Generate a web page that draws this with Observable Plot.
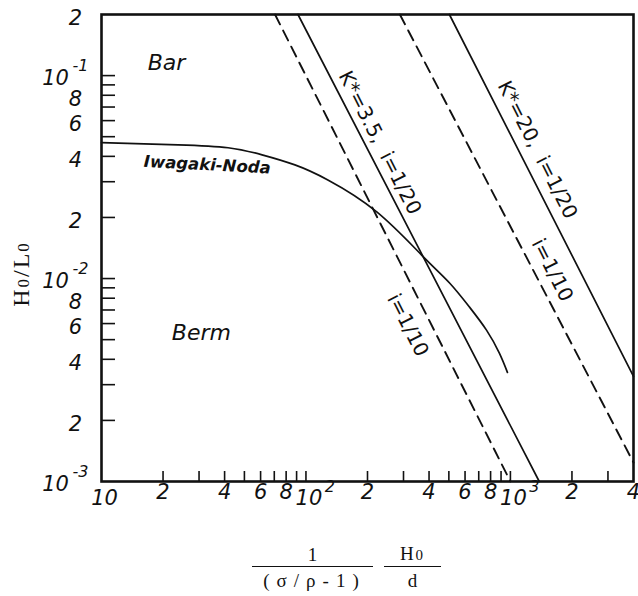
<!DOCTYPE html>
<html><head><meta charset="utf-8">
<script src="https://cdn.jsdelivr.net/npm/d3@7"></script>
<script src="https://cdn.jsdelivr.net/npm/@observablehq/plot@0.6"></script>
<style>
body{margin:0;background:#fff;}
#wrap{position:relative;width:638px;height:596px;overflow:hidden;background:#fff;}
g[aria-label="region-labels"] text{letter-spacing:2.5px;}
g[aria-label="curve-label"] text{letter-spacing:4px;}
g[aria-label="line-labels"] text{letter-spacing:1.5px;}
.ylab{position:absolute;left:22px;top:274px;transform:translate(-50%,-50%) rotate(-90deg);font-family:"Liberation Serif",serif;font-size:24px;line-height:24px;letter-spacing:2px;white-space:nowrap;color:#111;}
.ylab small{font-size:17px;}
.xlab{position:absolute;left:252px;top:544px;display:flex;align-items:center;font-family:"Liberation Serif",serif;font-size:19px;color:#111;}
.frac{display:flex;flex-direction:column;align-items:center;}
.frac .num{padding:0 0 1px 0;line-height:20px;}
.frac .den{border-top:1.5px solid #111;line-height:23px;padding-top:2px;}
.frac .num small{font-size:15px;}
</style></head><body><div id="wrap"></div>
<script>
// Axis domains
const xDomain = [10, 4000];
const yDomain = [0.001, 0.2];

// Minor/major tick positions
const xTicks = [20,30,40,50,60,70,80,90,100,200,300,400,500,600,700,800,900,1000,2000,3000];
const yTicks = [0.002,0.003,0.004,0.005,0.006,0.007,0.008,0.009,0.01,0.02,0.03,0.04,0.05,0.06,0.07,0.08,0.09,0.1];

// Tick labels
const xLabelValues = [20,40,60,80,200,400,600,800,2000,4000];
const xLabelTexts  = ["2","4","6","8","2","4","6","8","2","4"];
const xPowerValues = [10,100,1000];
const xPowerExps   = ["","2","3"];
const yLabelValues = [0.2,0.08,0.06,0.04,0.02,0.008,0.006,0.004,0.002];
const yLabelTexts  = ["2","8","6","4","2","8","6","4","2"];
const yPowerValues = [0.1,0.01,0.001];
const yPowerExps   = ["-1","-2","-3"];

// Criterion lines (endpoints)
const k35i20X = [91.4, 1384];  const k35i20Y = [0.2, 0.001];   // solid
const k35i10X = [70.6, 1000];  const k35i10Y = [0.2, 0.001];   // dashed
const k20i20X = [503, 4000];   const k20i20Y = [0.2, 0.0033];  // solid
const k20i10X = [288, 4000];   const k20i10Y = [0.2, 0.00124]; // dashed

// Iwagaki-Noda curve
const iwagakiX = [10, 23.7, 41.6, 61.0, 88.3, 128, 222, 372, 504, 631, 764, 883, 967];
const iwagakiY = [0.0467, 0.0456, 0.0441, 0.0407, 0.0363, 0.0306, 0.0213, 0.0129, 0.00951, 0.00723, 0.00557, 0.00429, 0.00345];

// Labels
const regionTexts = ["Bar", "Berm"];
const regionX = [20.8, 30.8];
const regionY = [0.116, 0.00538];
const curveText = ["Iwagaki-Noda"];
const curveX = [32.9];
const curveY = [0.0363];
const lineLabelTexts = ["K*=3.5,  i=1/20", "K*=20,  i=1/20", "i=1/10", "i=1/10"];
const lineLabelX = [229.6, 1355, 1603, 315];
const lineLabelY = [0.0467, 0.0431, 0.0110, 0.00589];

const pts = (xs, ys) => xs.map((x, i) => ({x, y: ys[i]}));
const idx = a => a.map((_, i) => i);

const W = 638, H = 596;
const mL = 101, mR = 5, mT = 14, mB = 115;
const frameW = W - mL - mR, frameH = H - mT - mB;
const font = "DejaVu Sans";

const plot = Plot.plot({
  width: W, height: H,
  marginLeft: mL, marginRight: mR, marginTop: mT, marginBottom: mB,
  x: {type: "log", domain: xDomain, axis: null},
  y: {type: "log", domain: yDomain, axis: null},
  style: {background: "#fff", color: "#111", fontFamily: font, overflow: "visible"},
  marks: [
    Plot.tickX(xTicks, {x: d => d, insetTop: frameH - 10, stroke: "#111", strokeWidth: 1.6}),
    Plot.tickY(yTicks, {y: d => d, insetRight: frameW - 14, stroke: "#111", strokeWidth: 1.6}),
    Plot.line(pts(k35i20X, k35i20Y), {x: "x", y: "y", stroke: "#111", strokeWidth: 1.7}),
    Plot.line(pts(k35i10X, k35i10Y), {x: "x", y: "y", stroke: "#111", strokeWidth: 1.9, strokeDasharray: "11,7"}),
    Plot.line(pts(k20i20X, k20i20Y), {x: "x", y: "y", stroke: "#111", strokeWidth: 1.7}),
    Plot.line(pts(k20i10X, k20i10Y), {x: "x", y: "y", stroke: "#111", strokeWidth: 1.9, strokeDasharray: "11,7"}),
    Plot.line(pts(iwagakiX, iwagakiY), {x: "x", y: "y", curve: "natural", stroke: "#111", strokeWidth: 1.7}),
    Plot.frame({stroke: "#111", strokeWidth: 2.6}),
    // x tick labels
    Plot.text(idx(xLabelValues), {x: i => xLabelValues[i], text: i => xLabelTexts[i], frameAnchor: "bottom", dy: 17,
      fontSize: 21, fontStyle: "italic", fill: "#111"}),
    Plot.text(idx(xPowerValues), {x: i => xPowerValues[i], text: () => "10", frameAnchor: "bottom", dy: 23, dx: 3,
      fontSize: 21, fontStyle: "italic", fill: "#111"}),
    Plot.text(idx(xPowerValues), {x: i => xPowerValues[i], text: i => xPowerExps[i], frameAnchor: "bottom", dy: 10, dx: 24,
      fontSize: 16, fontStyle: "italic", fill: "#111"}),
    // y tick labels
    Plot.text(idx(yLabelValues), {y: i => yLabelValues[i], text: i => yLabelTexts[i], frameAnchor: "left", dx: -26, dy: 4,
      textAnchor: "middle", fontSize: 21, fontStyle: "italic", fill: "#111"}),
    Plot.text(idx(yPowerValues), {y: i => yPowerValues[i], text: () => "10", frameAnchor: "left", dx: -46, dy: 3,
      textAnchor: "middle", fontSize: 21, fontStyle: "italic", fill: "#111"}),
    Plot.text(idx(yPowerValues), {y: i => yPowerValues[i], text: i => yPowerExps[i], frameAnchor: "left", dx: -21, dy: -10,
      textAnchor: "middle", fontSize: 16, fontStyle: "italic", fill: "#111"}),
    // region labels
    Plot.text(idx(regionTexts), {x: i => regionX[i], y: i => regionY[i], text: i => regionTexts[i], ariaLabel: "region-labels",
      fontSize: 22, fontStyle: "italic", fill: "#111"}),
    Plot.text(idx(curveText), {x: i => curveX[i], y: i => curveY[i], text: i => curveText[i], ariaLabel: "curve-label",
      fontSize: 16.5, fontStyle: "italic", fontWeight: "bold", rotate: 3, fill: "#111"}),
    Plot.text(idx(lineLabelTexts), {x: i => lineLabelX[i], y: i => lineLabelY[i], text: i => lineLabelTexts[i], ariaLabel: "line-labels",
      fontSize: 20, rotate: 63, fill: "#111"})
  ]
});

const wrap = document.getElementById("wrap");
wrap.appendChild(plot);

const ylab = document.createElement("div");
ylab.className = "ylab";
ylab.innerHTML = "H<small>0</small>/L<small>0</small>";
wrap.appendChild(ylab);

const xlab = document.createElement("div");
xlab.className = "xlab";
xlab.innerHTML =
  '<div class="frac" style="width:121px"><div class="num">1</div><div class="den" style="width:121px;text-align:center;letter-spacing:7px;padding-left:4px;box-sizing:border-box">(\u03c3/\u03c1-1)</div></div>' +
  '<div style="width:11px"></div>' +
  '<div class="frac" style="width:57px"><div class="num" style="letter-spacing:2px">H<small>0</small></div><div class="den" style="width:57px;text-align:center">d</div></div>';
wrap.appendChild(xlab);
</script>
</body></html>
